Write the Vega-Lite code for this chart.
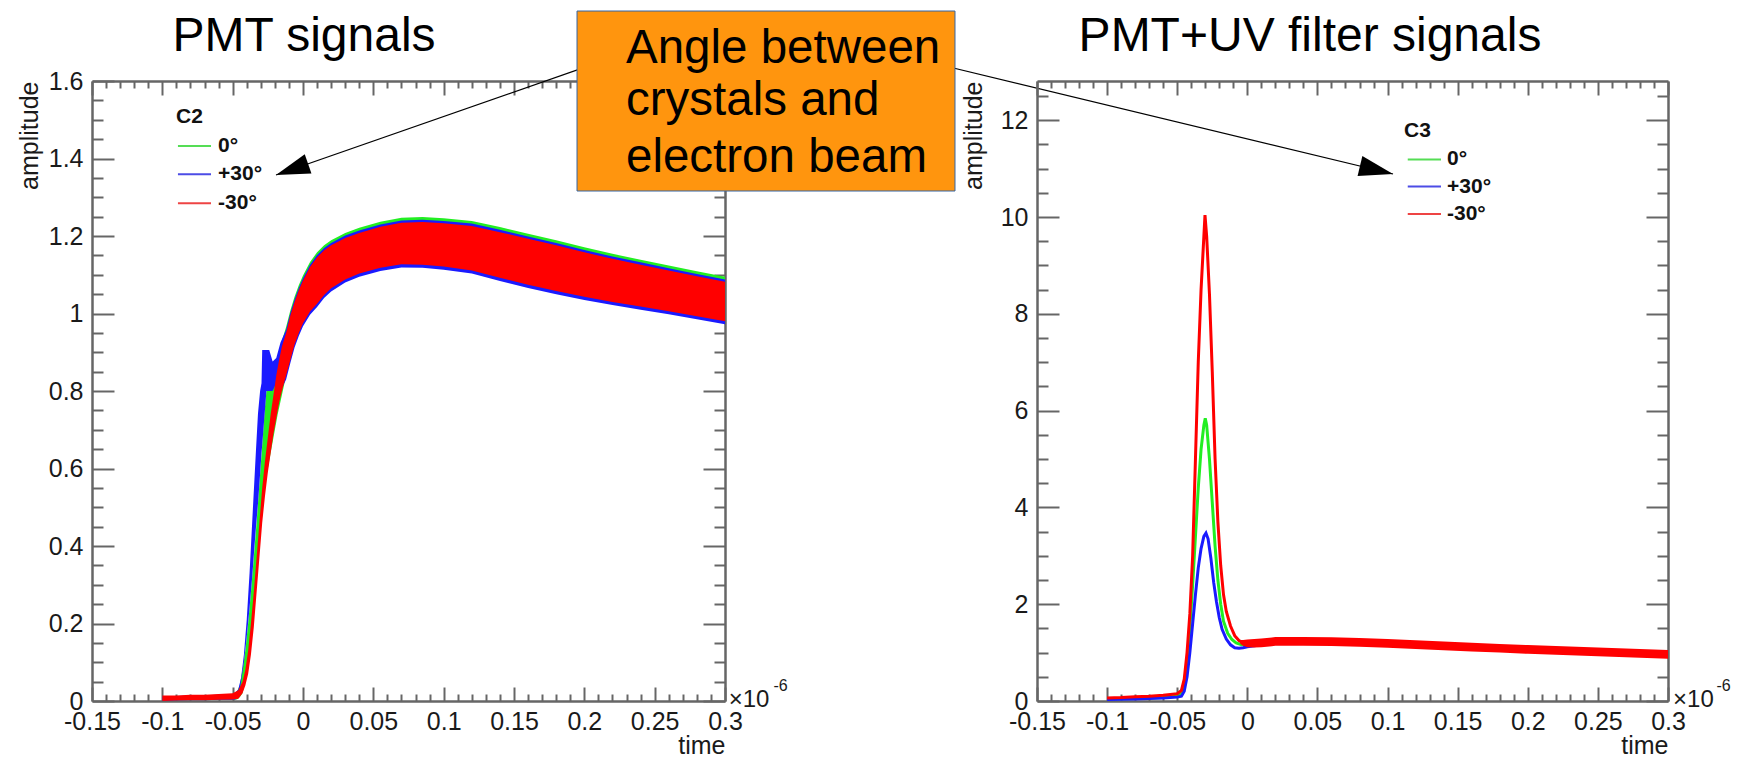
{
"$schema": "https://vega.github.io/schema/vega-lite/v6.json",
"background": "white",
"padding": {"left": 17, "top": 10, "right": 0, "bottom": 0},
"bounds": "flush",
"spacing": 312,
"config": {
  "view": {"stroke": null},
  "font": "Liberation Sans",
  "axis": {"domainColor": "#666666", "domainWidth": 2.5, "tickColor": "#666666", "tickWidth": 2, "labelFont": "Liberation Sans", "labelFontSize": 25, "labelColor": "#1a1a1a", "titleFont": "Liberation Sans", "titleFontSize": 25, "titleFontWeight": "normal", "titleColor": "#1a1a1a", "grid": false, "labelOverlap": false, "labelFlush": false, "labelBound": false}
},
"datasets": {
  "pmtG": [
    {"t":-0.1,"lo":0.0,"hi":0.012},{"t":-0.09,"lo":0.001,"hi":0.012},{"t":-0.08,"lo":0.002,"hi":0.014},{"t":-0.07,"lo":0.002,"hi":0.014},{"t":-0.06,"lo":0.003,"hi":0.016},{"t":-0.05,"lo":0.003,"hi":0.018},{"t":-0.047,"lo":0.004,"hi":0.024},{"t":-0.045,"lo":0.01,"hi":0.04},{"t":-0.043,"lo":0.02,"hi":0.08},{"t":-0.041,"lo":0.05,"hi":0.13},{"t":-0.039,"lo":0.1,"hi":0.2},{"t":-0.037,"lo":0.16,"hi":0.28},{"t":-0.035,"lo":0.24,"hi":0.37},{"t":-0.033,"lo":0.32,"hi":0.46},{"t":-0.031,"lo":0.4,"hi":0.56},{"t":-0.029,"lo":0.48,"hi":0.66},{"t":-0.027,"lo":0.55,"hi":0.76},{"t":-0.026,"lo":0.58,"hi":0.8},{"t":-0.024,"lo":0.62,"hi":0.8},{"t":-0.022,"lo":0.66,"hi":0.8},{"t":-0.02,"lo":0.7,"hi":0.83},{"t":-0.018,"lo":0.74,"hi":0.87},{"t":-0.015,"lo":0.79,"hi":0.93},{"t":-0.012,"lo":0.84,"hi":0.965},{"t":-0.009,"lo":0.88,"hi":1.008},{"t":-0.006,"lo":0.92,"hi":1.043},{"t":-0.003,"lo":0.95,"hi":1.073},{"t":0,"lo":0.977,"hi":1.098},{"t":0.005,"lo":1.007,"hi":1.133},{"t":0.01,"lo":1.027,"hi":1.158},{"t":0.015,"lo":1.05,"hi":1.176},{"t":0.02,"lo":1.067,"hi":1.189},{"t":0.03,"lo":1.09,"hi":1.208},{"t":0.04,"lo":1.105,"hi":1.221},{"t":0.055,"lo":1.12,"hi":1.237},{"t":0.07,"lo":1.129,"hi":1.247},{"t":0.085,"lo":1.128,"hi":1.249},{"t":0.1,"lo":1.123,"hi":1.246},{"t":0.12,"lo":1.113,"hi":1.239},{"t":0.14,"lo":1.094,"hi":1.223},{"t":0.16,"lo":1.076,"hi":1.206},{"t":0.18,"lo":1.06,"hi":1.189},{"t":0.2,"lo":1.045,"hi":1.171},{"t":0.22,"lo":1.032,"hi":1.154},{"t":0.24,"lo":1.02,"hi":1.139},{"t":0.26,"lo":1.008,"hi":1.124},{"t":0.28,"lo":0.995,"hi":1.109},{"t":0.3,"lo":0.982,"hi":1.095}
  ],
  "pmtB": [
    {"t":-0.1,"lo":0.0,"hi":0.012},{"t":-0.09,"lo":0.001,"hi":0.013},{"t":-0.08,"lo":0.002,"hi":0.014},{"t":-0.07,"lo":0.002,"hi":0.015},{"t":-0.06,"lo":0.003,"hi":0.016},{"t":-0.05,"lo":0.003,"hi":0.018},{"t":-0.048,"lo":0.004,"hi":0.022},{"t":-0.046,"lo":0.01,"hi":0.03},{"t":-0.044,"lo":0.05,"hi":0.06},{"t":-0.042,"lo":0.1,"hi":0.12},{"t":-0.04,"lo":0.165,"hi":0.21},{"t":-0.038,"lo":0.24,"hi":0.33},{"t":-0.036,"lo":0.325,"hi":0.47},{"t":-0.0347,"lo":0.39,"hi":0.56},{"t":-0.0334,"lo":0.45,"hi":0.65},{"t":-0.032,"lo":0.51,"hi":0.742},{"t":-0.0305,"lo":0.585,"hi":0.8},{"t":-0.0295,"lo":0.64,"hi":0.82},{"t":-0.029,"lo":0.66,"hi":0.906},{"t":-0.026,"lo":0.8,"hi":0.906},{"t":-0.024,"lo":0.8,"hi":0.906},{"t":-0.0216,"lo":0.8,"hi":0.876},{"t":-0.019,"lo":0.82,"hi":0.885},{"t":-0.016,"lo":0.8,"hi":0.925},{"t":-0.012,"lo":0.83,"hi":0.958},{"t":-0.009,"lo":0.872,"hi":1.001},{"t":-0.006,"lo":0.912,"hi":1.036},{"t":-0.003,"lo":0.942,"hi":1.066},{"t":0,"lo":0.967,"hi":1.091},{"t":0.005,"lo":0.997,"hi":1.126},{"t":0.01,"lo":1.017,"hi":1.151},{"t":0.015,"lo":1.04,"hi":1.169},{"t":0.02,"lo":1.057,"hi":1.182},{"t":0.03,"lo":1.08,"hi":1.201},{"t":0.04,"lo":1.095,"hi":1.214},{"t":0.055,"lo":1.11,"hi":1.23},{"t":0.07,"lo":1.119,"hi":1.24},{"t":0.085,"lo":1.118,"hi":1.242},{"t":0.1,"lo":1.113,"hi":1.239},{"t":0.12,"lo":1.103,"hi":1.232},{"t":0.14,"lo":1.084,"hi":1.216},{"t":0.16,"lo":1.066,"hi":1.199},{"t":0.18,"lo":1.05,"hi":1.182},{"t":0.2,"lo":1.035,"hi":1.164},{"t":0.22,"lo":1.022,"hi":1.147},{"t":0.24,"lo":1.01,"hi":1.132},{"t":0.26,"lo":0.998,"hi":1.117},{"t":0.28,"lo":0.985,"hi":1.102},{"t":0.3,"lo":0.972,"hi":1.088}
  ],
  "pmtR": [
    {"t":-0.1,"lo":0.0,"hi":0.014},{"t":-0.09,"lo":0.001,"hi":0.014},{"t":-0.08,"lo":0.002,"hi":0.016},{"t":-0.07,"lo":0.002,"hi":0.016},{"t":-0.06,"lo":0.003,"hi":0.018},{"t":-0.05,"lo":0.004,"hi":0.02},{"t":-0.046,"lo":0.006,"hi":0.028},{"t":-0.043,"lo":0.02,"hi":0.05},{"t":-0.041,"lo":0.04,"hi":0.08},{"t":-0.039,"lo":0.07,"hi":0.13},{"t":-0.037,"lo":0.12,"hi":0.2},{"t":-0.035,"lo":0.19,"hi":0.28},{"t":-0.033,"lo":0.28,"hi":0.37},{"t":-0.031,"lo":0.37,"hi":0.46},{"t":-0.029,"lo":0.46,"hi":0.55},{"t":-0.027,"lo":0.53,"hi":0.62},{"t":-0.025,"lo":0.59,"hi":0.68},{"t":-0.023,"lo":0.64,"hi":0.74},{"t":-0.021,"lo":0.69,"hi":0.79},{"t":-0.019,"lo":0.73,"hi":0.84},{"t":-0.017,"lo":0.77,"hi":0.88},{"t":-0.015,"lo":0.8,"hi":0.915},{"t":-0.012,"lo":0.84,"hi":0.95},{"t":-0.009,"lo":0.88,"hi":0.995},{"t":-0.006,"lo":0.92,"hi":1.03},{"t":-0.003,"lo":0.95,"hi":1.06},{"t":0,"lo":0.975,"hi":1.085},{"t":0.005,"lo":1.005,"hi":1.12},{"t":0.01,"lo":1.025,"hi":1.145},{"t":0.015,"lo":1.048,"hi":1.163},{"t":0.02,"lo":1.065,"hi":1.176},{"t":0.03,"lo":1.088,"hi":1.195},{"t":0.04,"lo":1.103,"hi":1.208},{"t":0.055,"lo":1.118,"hi":1.224},{"t":0.07,"lo":1.127,"hi":1.234},{"t":0.085,"lo":1.126,"hi":1.236},{"t":0.1,"lo":1.121,"hi":1.233},{"t":0.12,"lo":1.111,"hi":1.226},{"t":0.14,"lo":1.092,"hi":1.21},{"t":0.16,"lo":1.074,"hi":1.193},{"t":0.18,"lo":1.058,"hi":1.176},{"t":0.2,"lo":1.043,"hi":1.158},{"t":0.22,"lo":1.03,"hi":1.141},{"t":0.24,"lo":1.018,"hi":1.126},{"t":0.26,"lo":1.006,"hi":1.111},{"t":0.28,"lo":0.993,"hi":1.096},{"t":0.3,"lo":0.98,"hi":1.082}
  ],
  "uvG": [
    {"t":-0.1,"a":0.04},{"t":-0.08,"a":0.05},{"t":-0.06,"a":0.07},{"t":-0.05,"a":0.1},{"t":-0.047,"a":0.18},{"t":-0.045,"a":0.35},{"t":-0.043,"a":0.8},{"t":-0.041,"a":1.5},{"t":-0.039,"a":2.4},{"t":-0.037,"a":3.4},{"t":-0.035,"a":4.4},{"t":-0.033,"a":5.2},{"t":-0.031,"a":5.7},{"t":-0.03,"a":5.84},{"t":-0.029,"a":5.7},{"t":-0.027,"a":5.0},{"t":-0.025,"a":4.1},{"t":-0.023,"a":3.2},{"t":-0.021,"a":2.5},{"t":-0.019,"a":2.0},{"t":-0.017,"a":1.65},{"t":-0.014,"a":1.4},{"t":-0.011,"a":1.27},{"t":-0.008,"a":1.2},{"t":-0.004,"a":1.16},{"t":0,"a":1.16},{"t":0.01,"a":1.2},{"t":0.02,"a":1.23},{"t":0.04,"a":1.24},{"t":0.06,"a":1.235},{"t":0.08,"a":1.22},{"t":0.1,"a":1.2},{"t":0.12,"a":1.175},{"t":0.14,"a":1.15},{"t":0.16,"a":1.125},{"t":0.18,"a":1.1},{"t":0.2,"a":1.075},{"t":0.22,"a":1.055},{"t":0.24,"a":1.035},{"t":0.26,"a":1.015},{"t":0.28,"a":0.995},{"t":0.3,"a":0.975}
  ],
  "uvB": [
    {"t":-0.1,"a":0.03},{"t":-0.08,"a":0.04},{"t":-0.06,"a":0.06},{"t":-0.05,"a":0.08},{"t":-0.047,"a":0.1},{"t":-0.045,"a":0.2},{"t":-0.043,"a":0.5},{"t":-0.041,"a":1.0},{"t":-0.039,"a":1.6},{"t":-0.037,"a":2.2},{"t":-0.035,"a":2.75},{"t":-0.033,"a":3.15},{"t":-0.031,"a":3.4},{"t":-0.0295,"a":3.47},{"t":-0.028,"a":3.35},{"t":-0.026,"a":2.95},{"t":-0.024,"a":2.45},{"t":-0.022,"a":2.05},{"t":-0.02,"a":1.72},{"t":-0.018,"a":1.48},{"t":-0.015,"a":1.28},{"t":-0.012,"a":1.16},{"t":-0.009,"a":1.1},{"t":-0.006,"a":1.09},{"t":-0.003,"a":1.1},{"t":0,"a":1.12},{"t":0.01,"a":1.16},{"t":0.02,"a":1.2},{"t":0.04,"a":1.22},{"t":0.06,"a":1.22},{"t":0.08,"a":1.2},{"t":0.1,"a":1.18},{"t":0.12,"a":1.155},{"t":0.14,"a":1.13},{"t":0.16,"a":1.105},{"t":0.18,"a":1.08},{"t":0.2,"a":1.055},{"t":0.22,"a":1.035},{"t":0.24,"a":1.015},{"t":0.26,"a":0.995},{"t":0.28,"a":0.975},{"t":0.3,"a":0.955}
  ],
  "uvR": [
    {"t":-0.1,"a":0.06},{"t":-0.09,"a":0.07},{"t":-0.08,"a":0.09},{"t":-0.07,"a":0.1},{"t":-0.06,"a":0.12},{"t":-0.05,"a":0.15},{"t":-0.047,"a":0.22},{"t":-0.045,"a":0.45},{"t":-0.043,"a":1.0},{"t":-0.041,"a":1.8},{"t":-0.039,"a":3.0},{"t":-0.037,"a":5.0},{"t":-0.035,"a":7.0},{"t":-0.033,"a":8.5},{"t":-0.031,"a":9.6},{"t":-0.0302,"a":10.04},{"t":-0.029,"a":9.6},{"t":-0.027,"a":8.4},{"t":-0.025,"a":6.8},{"t":-0.023,"a":5.0},{"t":-0.021,"a":3.7},{"t":-0.019,"a":2.8},{"t":-0.017,"a":2.2},{"t":-0.015,"a":1.85},{"t":-0.012,"a":1.55},{"t":-0.009,"a":1.35},{"t":-0.006,"a":1.25},{"t":-0.003,"a":1.2},{"t":0,"a":1.18},{"t":0.01,"a":1.2},{"t":0.02,"a":1.23},{"t":0.04,"a":1.23},{"t":0.06,"a":1.225},{"t":0.08,"a":1.21},{"t":0.1,"a":1.19},{"t":0.12,"a":1.165},{"t":0.14,"a":1.14},{"t":0.16,"a":1.115},{"t":0.18,"a":1.09},{"t":0.2,"a":1.065},{"t":0.22,"a":1.045},{"t":0.24,"a":1.025},{"t":0.26,"a":1.005},{"t":0.28,"a":0.985},{"t":0.3,"a":0.965}
  ],
  "uvBandR": [
    {"t":-0.005,"lo":1.18,"hi":1.26},{"t":-0.003,"lo":1.14,"hi":1.26},{"t":0,"lo":1.11,"hi":1.27},{"t":0.005,"lo":1.105,"hi":1.28},{"t":0.01,"lo":1.11,"hi":1.29},{"t":0.02,"lo":1.14,"hi":1.32},{"t":0.04,"lo":1.14,"hi":1.32},{"t":0.06,"lo":1.135,"hi":1.315},{"t":0.08,"lo":1.12,"hi":1.3},{"t":0.1,"lo":1.1,"hi":1.28},{"t":0.12,"lo":1.075,"hi":1.255},{"t":0.14,"lo":1.05,"hi":1.23},{"t":0.16,"lo":1.025,"hi":1.205},{"t":0.18,"lo":1.0,"hi":1.18},{"t":0.2,"lo":0.975,"hi":1.155},{"t":0.22,"lo":0.955,"hi":1.135},{"t":0.24,"lo":0.935,"hi":1.115},{"t":0.26,"lo":0.915,"hi":1.095},{"t":0.28,"lo":0.895,"hi":1.075},{"t":0.3,"lo":0.875,"hi":1.055}
  ]
},
"hconcat": [
  {
    "width": 633, "height": 620,
    "resolve": {"axis": {"x": "independent", "y": "independent"}},
    "layer": [
      {"data": {"name": "pmtG"}, "mark": {"type": "area", "color": "#22ee22", "opacity": 1},
       "encoding": {
         "x": {"field": "t", "type": "quantitative", "scale": {"domain": [-0.15, 0.3], "nice": false, "zero": false},
               "axis": {"orient": "bottom", "zindex": 0, "values": [-0.15,-0.14,-0.13,-0.12,-0.11,-0.1,-0.09,-0.08,-0.07,-0.06,-0.05,-0.04,-0.03,-0.02,-0.01,0,0.01,0.02,0.03,0.04,0.05,0.06,0.07,0.08,0.09,0.1,0.11,0.12,0.13,0.14,0.15,0.16,0.17,0.18,0.19,0.2,0.21,0.22,0.23,0.24,0.25,0.26,0.27,0.28,0.29,0.3],
                        "tickSize": {"condition": {"test": "abs(datum.value*20-round(datum.value*20))<1e-6", "value": -14}, "value": -7},
                        "labelExpr": "abs(datum.value*20-round(datum.value*20))<1e-6 ? ''+datum.value : ''",
                        "labelPadding": 22, "title": "time", "titleAnchor": "end", "titleY": 52, "titleBaseline": "alphabetic"}},
         "y": {"field": "hi", "type": "quantitative", "scale": {"domain": [0, 1.6], "nice": false, "zero": false},
               "axis": {"orient": "left", "zindex": 0, "values": [0,0.05,0.1,0.15,0.2,0.25,0.3,0.35,0.4,0.45,0.5,0.55,0.6,0.65,0.7,0.75,0.8,0.85,0.9,0.95,1,1.05,1.1,1.15,1.2,1.25,1.3,1.35,1.4,1.45,1.5,1.55,1.6],
                        "tickSize": {"condition": {"test": "abs(datum.value*5-round(datum.value*5))<1e-6", "value": -22}, "value": -11},
                        "labelExpr": "abs(datum.value*5-round(datum.value*5))<1e-6 ? ''+datum.value : ''",
                        "labelPadding": 31, "title": "amplitude", "titleAnchor": "end", "titlePadding": 6}},
         "y2": {"field": "lo"}}},
      {"data": {"name": "pmtB"}, "mark": {"type": "area", "color": "#1a1aff", "opacity": 1},
       "encoding": {
         "x": {"field": "t", "type": "quantitative", "scale": {"domain": [-0.15, 0.3], "nice": false, "zero": false},
               "axis": {"orient": "top", "zindex": 0, "values": [-0.15,-0.14,-0.13,-0.12,-0.11,-0.1,-0.09,-0.08,-0.07,-0.06,-0.05,-0.04,-0.03,-0.02,-0.01,0,0.01,0.02,0.03,0.04,0.05,0.06,0.07,0.08,0.09,0.1,0.11,0.12,0.13,0.14,0.15,0.16,0.17,0.18,0.19,0.2,0.21,0.22,0.23,0.24,0.25,0.26,0.27,0.28,0.29,0.3],
                        "tickSize": {"condition": {"test": "abs(datum.value*20-round(datum.value*20))<1e-6", "value": -14}, "value": -7},
                        "labels": false, "title": null}},
         "y": {"field": "hi", "type": "quantitative", "scale": {"domain": [0, 1.6], "nice": false, "zero": false},
               "axis": {"orient": "right", "zindex": 0, "values": [0,0.05,0.1,0.15,0.2,0.25,0.3,0.35,0.4,0.45,0.5,0.55,0.6,0.65,0.7,0.75,0.8,0.85,0.9,0.95,1,1.05,1.1,1.15,1.2,1.25,1.3,1.35,1.4,1.45,1.5,1.55,1.6],
                        "tickSize": {"condition": {"test": "abs(datum.value*5-round(datum.value*5))<1e-6", "value": -22}, "value": -11},
                        "labels": false, "title": null}},
         "y2": {"field": "lo"}}},
      {"data": {"name": "pmtR"}, "mark": {"type": "area", "color": "#ff0000", "opacity": 1},
       "encoding": {
         "x": {"field": "t", "type": "quantitative", "scale": {"domain": [-0.15, 0.3], "nice": false, "zero": false}, "axis": null},
         "y": {"field": "hi", "type": "quantitative", "scale": {"domain": [0, 1.6], "nice": false, "zero": false}, "axis": null},
         "y2": {"field": "lo"}}},
      {"data": {"values": [{"s": "0°", "y": 1.4323}, {"s": "+30°", "y": 1.3592}, {"s": "-30°", "y": 1.2844}]},
       "layer": [
         {"mark": {"type": "rule", "strokeWidth": 2},
          "encoding": {
            "x": {"datum": -0.0889, "type": "quantitative", "scale": {"domain": [-0.15, 0.3], "nice": false, "zero": false}, "axis": null},
            "x2": {"datum": -0.0654},
            "y": {"field": "y", "type": "quantitative", "scale": {"domain": [0, 1.6], "nice": false, "zero": false}, "axis": null},
            "color": {"field": "s", "type": "nominal", "scale": {"domain": ["0°", "+30°", "-30°"], "range": ["#55dd55", "#4c4ce6", "#ee4444"]}, "legend": null}}},
         {"mark": {"type": "text", "align": "left", "baseline": "middle", "fontSize": 21, "fontWeight": "bold", "color": "#111111"},
          "encoding": {
            "x": {"datum": -0.0604, "type": "quantitative", "scale": {"domain": [-0.15, 0.3], "nice": false, "zero": false}, "axis": null},
            "y": {"field": "y", "type": "quantitative", "scale": {"domain": [0, 1.6], "nice": false, "zero": false}, "axis": null},
            "text": {"field": "s"}}}
       ]},
      {"data": {"values": [{"label": "C2"}]},
       "mark": {"type": "text", "align": "left", "baseline": "middle", "fontSize": 21, "fontWeight": "bold", "color": "#111111"},
       "encoding": {
         "x": {"datum": -0.0903, "type": "quantitative", "scale": {"domain": [-0.15, 0.3], "nice": false, "zero": false}, "axis": null},
         "y": {"datum": 1.5079, "type": "quantitative", "scale": {"domain": [0, 1.6], "nice": false, "zero": false}, "axis": null},
         "text": {"field": "label"}}},
      {"data": {"values": [{"label": "PMT signals"}]},
       "mark": {"type": "text", "align": "center", "baseline": "alphabetic", "fontSize": 48, "color": "#000000"},
       "encoding": {
         "x": {"datum": 0.0007, "type": "quantitative", "scale": {"domain": [-0.15, 0.3], "nice": false, "zero": false}, "axis": null},
         "y": {"datum": 1.6774, "type": "quantitative", "scale": {"domain": [0, 1.6], "nice": false, "zero": false}, "axis": null},
         "text": {"field": "label"}}},
      {"data": {"values": [{"label": "×10", "x": 0.3026, "y": 0.0026, "k": "base"}, {"label": "-6", "x": 0.3345, "y": 0.0387, "k": "exp"}]},
       "mark": {"type": "text", "align": "left", "baseline": "middle", "color": "#1a1a1a"},
       "encoding": {
         "x": {"field": "x", "type": "quantitative", "scale": {"domain": [-0.15, 0.3], "nice": false, "zero": false}, "axis": null},
         "y": {"field": "y", "type": "quantitative", "scale": {"domain": [0, 1.6], "nice": false, "zero": false}, "axis": null},
         "size": {"field": "k", "type": "nominal", "scale": {"domain": ["base", "exp"], "range": [24, 16]}, "legend": null},
         "text": {"field": "label"}}},
      {"data": {"values": [{"x": 0.2118, "y": 1.65, "x2": -0.0192, "y2": 1.3574}, {"x": 0.4535, "y": 1.6413, "x2": 0.7749, "y2": 1.36}]},
       "mark": {"type": "rule", "color": "#000000", "strokeWidth": 1.2},
       "encoding": {
         "x": {"field": "x", "type": "quantitative", "scale": {"domain": [-0.15, 0.3], "nice": false, "zero": false}, "axis": null},
         "x2": {"field": "x2"},
         "y": {"field": "y", "type": "quantitative", "scale": {"domain": [0, 1.6], "nice": false, "zero": false}, "axis": null},
         "y2": {"field": "y2"}}},
      {"data": {"values": [{"x": -0.0192, "y": 1.3574}]},
       "mark": {"type": "point", "shape": "M0,0L-2,-0.6L-2,0.6Z", "filled": true, "color": "#000000", "opacity": 1, "size": 1156, "angle": 160.8, "strokeWidth": 0},
       "encoding": {
         "x": {"field": "x", "type": "quantitative", "scale": {"domain": [-0.15, 0.3], "nice": false, "zero": false}, "axis": null},
         "y": {"field": "y", "type": "quantitative", "scale": {"domain": [0, 1.6], "nice": false, "zero": false}, "axis": null}}},
      {"data": {"values": [{"x": 0.7749, "y": 1.36}]},
       "mark": {"type": "point", "shape": "M0,0L-2,-0.6L-2,0.6Z", "filled": true, "color": "#000000", "opacity": 1, "size": 1156, "angle": 13.56, "strokeWidth": 0},
       "encoding": {
         "x": {"field": "x", "type": "quantitative", "scale": {"domain": [-0.15, 0.3], "nice": false, "zero": false}, "axis": null},
         "y": {"field": "y", "type": "quantitative", "scale": {"domain": [0, 1.6], "nice": false, "zero": false}, "axis": null}}},
      {"data": {"values": [{"x": 0.1948, "x2": 0.4635, "y": 1.7806, "y2": 1.3161}]},
       "mark": {"type": "rect", "fill": "#ff950e", "stroke": "#3465a4", "strokeWidth": 1, "opacity": 1},
       "encoding": {
         "x": {"field": "x", "type": "quantitative", "scale": {"domain": [-0.15, 0.3], "nice": false, "zero": false}, "axis": null},
         "x2": {"field": "x2"},
         "y": {"field": "y", "type": "quantitative", "scale": {"domain": [0, 1.6], "nice": false, "zero": false}, "axis": null},
         "y2": {"field": "y2"}}},
      {"data": {"values": [{"line": "Angle between", "y": 1.6457}, {"line": "crystals and", "y": 1.5123}, {"line": "electron beam", "y": 1.366}]},
       "mark": {"type": "text", "align": "left", "baseline": "alphabetic", "fontSize": 47.5, "color": "#000000"},
       "encoding": {
         "x": {"datum": 0.2296, "type": "quantitative", "scale": {"domain": [-0.15, 0.3], "nice": false, "zero": false}, "axis": null},
         "y": {"field": "y", "type": "quantitative", "scale": {"domain": [0, 1.6], "nice": false, "zero": false}, "axis": null},
         "text": {"field": "line"}}}
    ]
  },
  {
    "width": 631, "height": 620,
    "resolve": {"axis": {"x": "independent", "y": "independent"}},
    "layer": [
      {"data": {"name": "uvG"}, "mark": {"type": "line", "color": "#22ee22", "strokeWidth": 3},
       "encoding": {
         "x": {"field": "t", "type": "quantitative", "scale": {"domain": [-0.15, 0.3], "nice": false, "zero": false},
               "axis": {"orient": "bottom", "zindex": 0, "values": [-0.15,-0.14,-0.13,-0.12,-0.11,-0.1,-0.09,-0.08,-0.07,-0.06,-0.05,-0.04,-0.03,-0.02,-0.01,0,0.01,0.02,0.03,0.04,0.05,0.06,0.07,0.08,0.09,0.1,0.11,0.12,0.13,0.14,0.15,0.16,0.17,0.18,0.19,0.2,0.21,0.22,0.23,0.24,0.25,0.26,0.27,0.28,0.29,0.3],
                        "tickSize": {"condition": {"test": "abs(datum.value*20-round(datum.value*20))<1e-6", "value": -14}, "value": -7},
                        "labelExpr": "abs(datum.value*20-round(datum.value*20))<1e-6 ? ''+datum.value : ''",
                        "labelPadding": 22, "title": "time", "titleAnchor": "end", "titleY": 52, "titleBaseline": "alphabetic"}},
         "y": {"field": "a", "type": "quantitative", "scale": {"domain": [0, 12.81], "nice": false, "zero": false},
               "axis": {"orient": "left", "zindex": 0, "values": [0,0.5,1,1.5,2,2.5,3,3.5,4,4.5,5,5.5,6,6.5,7,7.5,8,8.5,9,9.5,10,10.5,11,11.5,12,12.5],
                        "tickSize": {"condition": {"test": "abs(datum.value/2-round(datum.value/2))<1e-6", "value": -22}, "value": -11},
                        "labelExpr": "abs(datum.value/2-round(datum.value/2))<1e-6 ? ''+datum.value : ''",
                        "labelPadding": 31, "title": "amplitude", "titleAnchor": "end", "titlePadding": 14}}}},
      {"data": {"name": "uvB"}, "mark": {"type": "line", "color": "#1a1aff", "strokeWidth": 3},
       "encoding": {
         "x": {"field": "t", "type": "quantitative", "scale": {"domain": [-0.15, 0.3], "nice": false, "zero": false},
               "axis": {"orient": "top", "zindex": 0, "values": [-0.15,-0.14,-0.13,-0.12,-0.11,-0.1,-0.09,-0.08,-0.07,-0.06,-0.05,-0.04,-0.03,-0.02,-0.01,0,0.01,0.02,0.03,0.04,0.05,0.06,0.07,0.08,0.09,0.1,0.11,0.12,0.13,0.14,0.15,0.16,0.17,0.18,0.19,0.2,0.21,0.22,0.23,0.24,0.25,0.26,0.27,0.28,0.29,0.3],
                        "tickSize": {"condition": {"test": "abs(datum.value*20-round(datum.value*20))<1e-6", "value": -14}, "value": -7},
                        "labels": false, "title": null}},
         "y": {"field": "a", "type": "quantitative", "scale": {"domain": [0, 12.81], "nice": false, "zero": false},
               "axis": {"orient": "right", "zindex": 0, "values": [0,0.5,1,1.5,2,2.5,3,3.5,4,4.5,5,5.5,6,6.5,7,7.5,8,8.5,9,9.5,10,10.5,11,11.5,12,12.5],
                        "tickSize": {"condition": {"test": "abs(datum.value/2-round(datum.value/2))<1e-6", "value": -22}, "value": -11},
                        "labels": false, "title": null}}}},
      {"data": {"name": "uvR"}, "mark": {"type": "line", "color": "#ff0000", "strokeWidth": 3},
       "encoding": {
         "x": {"field": "t", "type": "quantitative", "scale": {"domain": [-0.15, 0.3], "nice": false, "zero": false}, "axis": null},
         "y": {"field": "a", "type": "quantitative", "scale": {"domain": [0, 12.81], "nice": false, "zero": false}, "axis": null}}},
      {"data": {"name": "uvBandR"}, "mark": {"type": "area", "color": "#ff0000", "opacity": 1},
       "encoding": {
         "x": {"field": "t", "type": "quantitative", "scale": {"domain": [-0.15, 0.3], "nice": false, "zero": false}, "axis": null},
         "y": {"field": "hi", "type": "quantitative", "scale": {"domain": [0, 12.81], "nice": false, "zero": false}, "axis": null},
         "y2": {"field": "lo"}}},
      {"data": {"values": [{"s": "0°", "y": 11.19}, {"s": "+30°", "y": 10.63}, {"s": "-30°", "y": 10.06}]},
       "layer": [
         {"mark": {"type": "rule", "strokeWidth": 2},
          "encoding": {
            "x": {"datum": 0.1144, "type": "quantitative", "scale": {"domain": [-0.15, 0.3], "nice": false, "zero": false}, "axis": null},
            "x2": {"datum": 0.1381},
            "y": {"field": "y", "type": "quantitative", "scale": {"domain": [0, 12.81], "nice": false, "zero": false}, "axis": null},
            "color": {"field": "s", "type": "nominal", "scale": {"domain": ["0°", "+30°", "-30°"], "range": ["#55dd55", "#4c4ce6", "#ee4444"]}, "legend": null}}},
         {"mark": {"type": "text", "align": "left", "baseline": "middle", "fontSize": 21, "fontWeight": "bold", "color": "#111111"},
          "encoding": {
            "x": {"datum": 0.1424, "type": "quantitative", "scale": {"domain": [-0.15, 0.3], "nice": false, "zero": false}, "axis": null},
            "y": {"field": "y", "type": "quantitative", "scale": {"domain": [0, 12.81], "nice": false, "zero": false}, "axis": null},
            "text": {"field": "s"}}}
       ]},
      {"data": {"values": [{"label": "C3"}]},
       "mark": {"type": "text", "align": "left", "baseline": "middle", "fontSize": 21, "fontWeight": "bold", "color": "#111111"},
       "encoding": {
         "x": {"datum": 0.1117, "type": "quantitative", "scale": {"domain": [-0.15, 0.3], "nice": false, "zero": false}, "axis": null},
         "y": {"datum": 11.783, "type": "quantitative", "scale": {"domain": [0, 12.81], "nice": false, "zero": false}, "axis": null},
         "text": {"field": "label"}}},
      {"data": {"values": [{"label": "PMT+UV filter signals"}]},
       "mark": {"type": "text", "align": "center", "baseline": "alphabetic", "fontSize": 48, "color": "#000000"},
       "encoding": {
         "x": {"datum": 0.0447, "type": "quantitative", "scale": {"domain": [-0.15, 0.3], "nice": false, "zero": false}, "axis": null},
         "y": {"datum": 13.43, "type": "quantitative", "scale": {"domain": [0, 12.81], "nice": false, "zero": false}, "axis": null},
         "text": {"field": "label"}}},
      {"data": {"values": [{"label": "×10", "x": 0.3036, "y": 0.02, "k": "base"}, {"label": "-6", "x": 0.3345, "y": 0.31, "k": "exp"}]},
       "mark": {"type": "text", "align": "left", "baseline": "middle", "color": "#1a1a1a"},
       "encoding": {
         "x": {"field": "x", "type": "quantitative", "scale": {"domain": [-0.15, 0.3], "nice": false, "zero": false}, "axis": null},
         "y": {"field": "y", "type": "quantitative", "scale": {"domain": [0, 12.81], "nice": false, "zero": false}, "axis": null},
         "size": {"field": "k", "type": "nominal", "scale": {"domain": ["base", "exp"], "range": [24, 16]}, "legend": null},
         "text": {"field": "label"}}}
    ]
  }
]
}
